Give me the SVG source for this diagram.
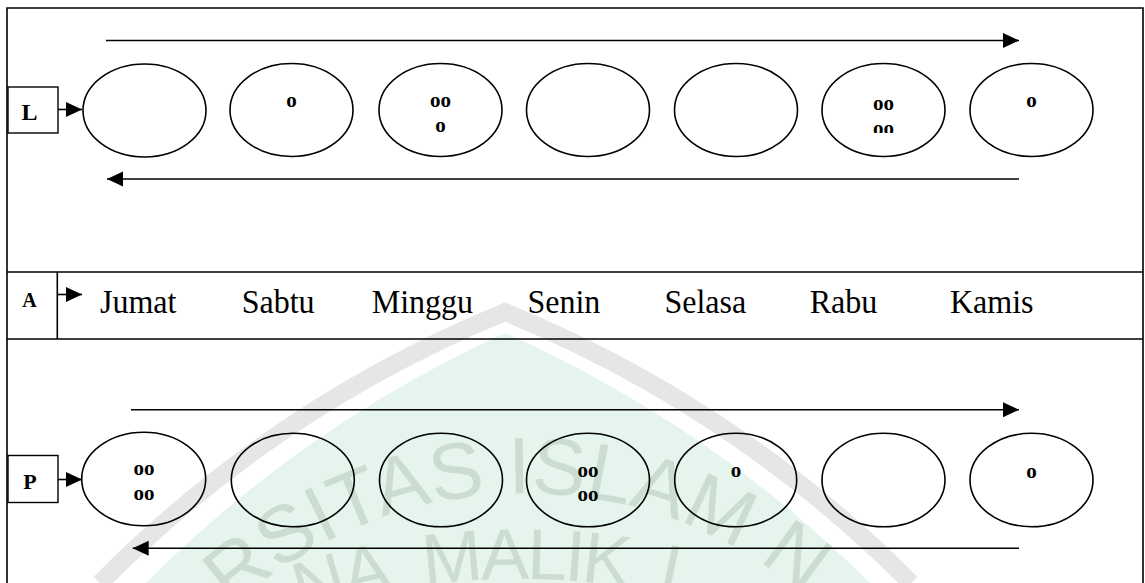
<svg xmlns="http://www.w3.org/2000/svg" width="1145" height="583" viewBox="0 0 1145 583">
<defs>
<style>
.ln{stroke:#000;stroke-width:1.6;fill:none}
.el{fill:none;stroke:#000;stroke-width:1.6}
.bx{fill:none;stroke:#000;stroke-width:1.4}
.dot{font-family:"Liberation Serif","Times New Roman",serif;font-weight:bold;font-size:21px;text-anchor:middle;fill:#000}
.lab{font-family:"Liberation Serif","Times New Roman",serif;font-weight:bold;text-anchor:middle;fill:#000}
.day{font-family:"Liberation Serif","Times New Roman",serif;font-size:33.5px;fill:#000}
.wm{font-family:"Liberation Sans",Arial,sans-serif;fill:#cbdcd0}
</style>
<marker id="ah" markerUnits="userSpaceOnUse" markerWidth="17" markerHeight="16" refX="16" refY="7.5" orient="auto"><path d="M0,0 L16,7.5 L0,15 Z" fill="#000"/></marker>
<clipPath id="clip6"><rect x="820" y="60" width="130" height="73"/></clipPath>
<path id="wmA" d="M99.6 850 A432 432 0 0 1 950.4 850"/>
<path id="wmB" d="M70 742.8 A700 700 0 0 1 970 742.8"/>
</defs>
<rect x="0" y="0" width="1145" height="583" fill="#fff"/>
<g id="watermark">
<path d="M146 583 A1231 1231 0 0 1 505 333 A1231 1231 0 0 1 870 583 Z" fill="#e5f4ec"/>
<path d="M100 583 A1231 1231 0 0 1 505 312 A1231 1231 0 0 1 911 583" fill="none" stroke="#e6e6e6" stroke-width="18"/>
<text class="wm" font-size="80"><textPath href="#wmA" startOffset="281">RSITAS ISLAM N</textPath></text>
<text class="wm" font-size="72" letter-spacing="-3"><textPath href="#wmB" startOffset="266">NA<tspan dx="20"> MALIK</tspan><tspan dx="14"> I</tspan></textPath></text>
</g>
<g id="frame">
<path class="ln" d="M7 600 V8 H1143 V600"/>
<line class="ln" x1="7" y1="272" x2="1143" y2="272"/>
<line class="ln" x1="7" y1="339" x2="1143" y2="339"/>
</g>
<g id="label-L"><rect class="bx" x="8" y="87" width="50" height="46"/><text class="lab" x="29.5" y="120" font-size="24">L</text></g>
<g id="label-A"><line class="ln" x1="57.3" y1="272" x2="57.3" y2="339"/><text class="lab" x="29.5" y="307" font-size="20">A</text></g>
<g id="label-P"><rect class="bx" x="8" y="455.5" width="50" height="47"/><text class="lab" x="30" y="489" font-size="22">P</text></g>
<g id="connectors">
<line class="ln" x1="58" y1="109.5" x2="82" y2="109.5" marker-end="url(#ah)"/>
<line class="ln" x1="57.3" y1="294.5" x2="82" y2="294.5" marker-end="url(#ah)"/>
<line class="ln" x1="58" y1="479.5" x2="82" y2="479.5" marker-end="url(#ah)"/>
<line class="ln" x1="106" y1="40.5" x2="1019" y2="40.5" marker-end="url(#ah)"/>
<line class="ln" x1="1019" y1="179" x2="107" y2="179" marker-end="url(#ah)"/>
<line class="ln" x1="131" y1="409.7" x2="1019" y2="409.7" marker-end="url(#ah)"/>
<line class="ln" x1="1019" y1="548.3" x2="132.7" y2="548.3" marker-end="url(#ah)"/>
</g>
<g id="L1"><ellipse class="el" cx="144.5" cy="110.5" rx="61.5" ry="46.5"/></g>
<g id="L2"><ellipse class="el" cx="291.5" cy="110" rx="61.5" ry="46.5"/><text class="dot" x="291.5" y="107">o</text></g>
<g id="L3"><ellipse class="el" cx="440.5" cy="110" rx="61.5" ry="46.5"/><text class="dot" x="440.5" y="107">oo<tspan x="440.5" dy="25">o</tspan></text></g>
<g id="L4"><ellipse class="el" cx="588" cy="110" rx="61.5" ry="46.5"/></g>
<g id="L5"><ellipse class="el" cx="736" cy="110" rx="61.5" ry="46.5"/></g>
<g id="L6"><ellipse class="el" cx="883.5" cy="110" rx="61.5" ry="46.5"/><text class="dot" x="883.5" y="110" clip-path="url(#clip6)">oo<tspan x="883.5" dy="25">oo</tspan></text></g>
<g id="L7"><ellipse class="el" cx="1031.5" cy="110" rx="61.5" ry="46.5"/><text class="dot" x="1031.5" y="107">o</text></g>
<g id="days">
<text class="day" x="100" y="313" textLength="76.4" lengthAdjust="spacingAndGlyphs">Jumat</text>
<text class="day" x="241.7" y="313" textLength="72.9" lengthAdjust="spacingAndGlyphs">Sabtu</text>
<text class="day" x="371.8" y="313" textLength="101.3" lengthAdjust="spacingAndGlyphs">Minggu</text>
<text class="day" x="527.4" y="313" textLength="72.9" lengthAdjust="spacingAndGlyphs">Senin</text>
<text class="day" x="664.4" y="313" textLength="81.8" lengthAdjust="spacingAndGlyphs">Selasa</text>
<text class="day" x="809.7" y="313" textLength="67.6" lengthAdjust="spacingAndGlyphs">Rabu</text>
<text class="day" x="949.9" y="313" textLength="83.6" lengthAdjust="spacingAndGlyphs">Kamis</text>
</g>
<g id="P1"><ellipse class="el" cx="143.7" cy="479" rx="62" ry="46.7"/><text class="dot" x="144" y="475">oo<tspan x="144" dy="25">oo</tspan></text></g>
<g id="P2"><ellipse class="el" cx="292.8" cy="480" rx="61.5" ry="46.7"/></g>
<g id="P3"><ellipse class="el" cx="441" cy="480" rx="61.5" ry="46.7"/></g>
<g id="P4"><ellipse class="el" cx="588" cy="480" rx="61.5" ry="46.7"/><text class="dot" x="588" y="476.5">oo<tspan x="588" dy="24.5">oo</tspan></text></g>
<g id="P5"><ellipse class="el" cx="735.7" cy="480" rx="61" ry="46.7"/><text class="dot" x="736" y="477">o</text></g>
<g id="P6"><ellipse class="el" cx="883.5" cy="480" rx="61.5" ry="46.7"/></g>
<g id="P7"><ellipse class="el" cx="1031.5" cy="480" rx="61.5" ry="46.7"/><text class="dot" x="1031.5" y="477.5">o</text></g>
</svg>
